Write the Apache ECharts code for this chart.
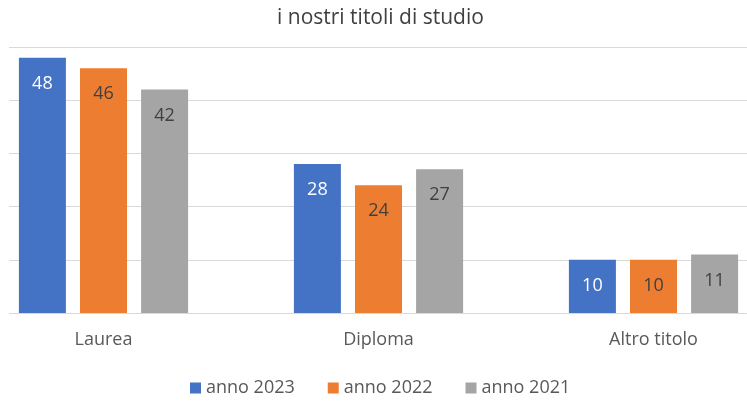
<!DOCTYPE html>
<html>
<head>
<meta charset="utf-8">
<script src="https://cdn.jsdelivr.net/npm/echarts@6/dist/echarts.min.js"></script>
<style>
  html, body { margin: 0; padding: 0; background: #fff; }
  #wrap { width: 747px; height: 403px; overflow: hidden; position: relative; }
  /* il grafico originale è ritagliato ai lati: area più larga spostata a sinistra */
  #chart { width: 835px; height: 403px; position: absolute; left: -44px; top: 0; }
</style>
</head>
<body>
<div id="wrap"><div id="chart"></div></div>
<script>
// dati del grafico
var categorie = ['Laurea', 'Diploma', 'Altro titolo'];
var anno2023 = [48, 28, 10];
var anno2022 = [46, 24, 10];
var anno2021 = [42, 27, 11];
var nomiSerie = ['anno 2023', 'anno 2022', 'anno 2021'];

var font = '"Open Sans", sans-serif';
var chart = echarts.init(document.getElementById('chart'));

function serie(nome, dati, colore, coloreTesto) {
    return {
        name: nome,
        type: 'bar',
        xAxisIndex: 1,
        yAxisIndex: 1,
        barWidth: 47,
        barGap: '30%',
        data: dati,
        itemStyle: { color: colore },
        label: {
            show: true,
            position: 'insideTop',
            distance: 17,
            color: coloreTesto,
            fontSize: 18,
            fontFamily: font
        }
    };
}

var option = {
    animation: false,
    title: {
        text: 'i nostri titoli di studio',
        left: 316,
        top: 3,
        textStyle: { color: '#404040', fontSize: 21, fontWeight: 'normal', fontFamily: font }
    },
    legend: {
        data: nomiSerie,
        top: 379,
        left: 234,
        padding: 0,
        itemWidth: 11,
        itemHeight: 11,
        itemGap: 33,
        icon: 'rect',
        textStyle: { color: '#595959', fontSize: 18, fontFamily: font }
    },
    grid: [
        // griglia per le linee orizzontali
        { left: 53, right: 44, top: 47, height: 266 },
        // griglia per le barre
        { left: 10, right: 0, top: 47, height: 266 }
    ],
    xAxis: [
        { type: 'category', gridIndex: 0, data: categorie, show: false },
        {
            type: 'category',
            gridIndex: 1,
            data: categorie,
            axisTick: { show: false },
            axisLine: { show: false },
            axisLabel: { color: '#595959', fontSize: 18, fontFamily: font, margin: 18 }
        }
    ],
    yAxis: [
        {
            type: 'value',
            gridIndex: 0,
            min: 0,
            max: 50,
            interval: 10,
            axisLabel: { show: false },
            axisTick: { show: false },
            axisLine: { show: false },
            splitLine: { lineStyle: { color: '#d9d9d9', width: 1 } }
        },
        {
            type: 'value',
            gridIndex: 1,
            min: 0,
            max: 50,
            interval: 10,
            show: false,
            splitLine: { show: false }
        }
    ],
    series: [
        serie(nomiSerie[0], anno2023, '#4472C4', '#ffffff'),
        serie(nomiSerie[1], anno2022, '#ED7D31', '#404040'),
        serie(nomiSerie[2], anno2021, '#A5A5A5', '#404040')
    ]
};

chart.setOption(option);
</script>
</body>
</html>
